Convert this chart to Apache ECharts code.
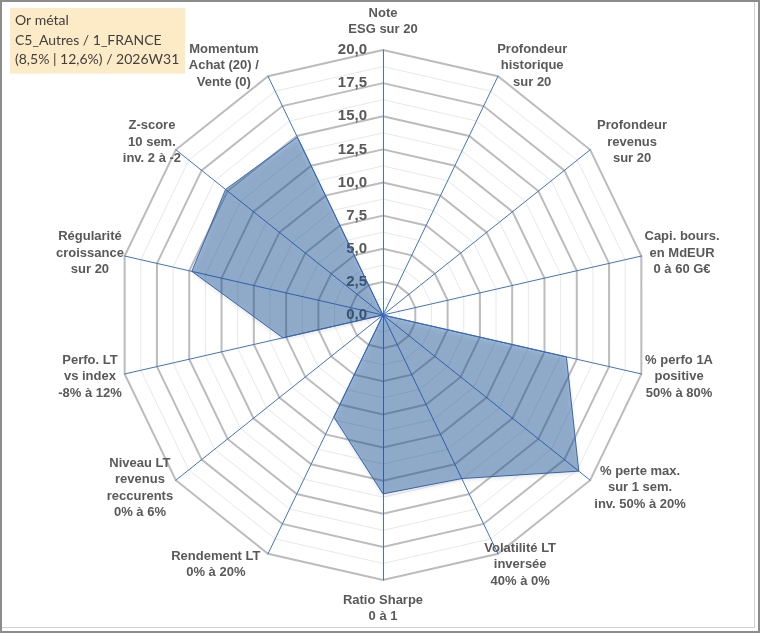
<!DOCTYPE html>
<html>
<head>
<meta charset="utf-8">
<script src="https://cdn.jsdelivr.net/npm/echarts@6/dist/echarts.min.js"></script>
<style>
html,body{margin:0;padding:0;background:#fff;}
#frame{position:absolute;left:0;top:0;width:760px;height:633px;box-sizing:border-box;border:2px solid #8c8c8c;}
#inner{position:absolute;left:2px;top:2px;width:753px;height:626px;box-sizing:border-box;border-right:1px solid #d0d0d0;border-bottom:1px solid #d0d0d0;}
#chart{position:absolute;left:0;top:0;width:760px;height:633px;}
</style>
</head>
<body>
<div id="chart"></div>
<div id="frame"></div>
<div id="inner"></div>
<script>
// Indicators in clockwise order starting at the top
const indicatorNames = [
  'Note\nESG sur 20',
  'Profondeur\nhistorique\nsur 20',
  'Profondeur\nrevenus\nsur 20',
  'Capi. bours.\nen MdEUR\n0 à 60 G€',
  '% perfo 1A\npositive\n50% à 80%',
  '% perte max.\nsur 1 sem.\ninv. 50% à 20%',
  'Volatilité LT\ninversée\n40% à 0%',
  'Ratio Sharpe\n0 à 1',
  'Rendement LT\n0% à 20%',
  'Niveau LT\nrevenus\nreccurents\n0% à 6%',
  'Perfo. LT\nvs index\n-8% à 12%',
  'Régularité\ncroissance\nsur 20',
  'Z-score\n10 sem.\ninv. 2 à -2',
  'Momentum\nAchat (20) /\nVente (0)'
];
const seriesValues = [0, 0, 0, 0, 14.2, 18.9, 13.7, 13.5, 8.55, 0, 7.75, 14.8, 15.2, 14.9];
const axisMin = 0;
const axisMax = 20;
const axisSplits = 8;
const titleLines = ['Or métal', 'C5_Autres / 1_FRANCE', '(8,5% | 12,6%) / 2026W31'];

// label box widths (layout only), clockwise order
const nameBoxWidths = [110, 58, 65, 58, 52, 81, 34, 110, 94, 53, 46, 46, 29, 78];

// ECharts places indicators counter-clockwise: reorder
const order = [0];
for (let i = indicatorNames.length - 1; i >= 1; i--) order.push(i);

const font = 'Liberation Sans, Arial, sans-serif';
const rich = {};
nameBoxWidths.forEach(function (w, i) {
  rich['r' + i] = {width: w, align: 'center', fontSize: 13, fontWeight: 'bold', color: '#595959', lineHeight: 16.5, fontFamily: font};
});

const mainIndicators = order.map(function (i, k) {
  const ind = {name: indicatorNames[i], min: axisMin, max: axisMax};
  if (k === 0) {
    ind.axisLabel = {
      show: true, color: '#595959', fontWeight: 'bold', fontSize: 15, fontFamily: font, margin: 16,
      formatter: function (v) { return Number(v).toFixed(1).replace('.', ','); }
    };
  }
  return ind;
});
const minorIndicators = order.map(function () { return {name: '', min: axisMin, max: axisMax}; });

const chart = echarts.init(document.getElementById('chart'), null, {renderer: 'canvas'});
chart.setOption({
  animation: false,
  backgroundColor: '#ffffff',
  title: {
    text: titleLines.join('\n'),
    left: 10, top: 8,
    padding: [3, 6, 4, 5],
    backgroundColor: '#fdeac6',
    textStyle: {fontFamily: 'Lato, sans-serif', fontSize: 14, fontWeight: 'normal', color: '#404040', lineHeight: 19.5}
  },
  radar: [
    {
      center: [383, 315], radius: 265, shape: 'polygon',
      indicator: minorIndicators,
      splitNumber: axisSplits * 2,
      axisName: {show: false},
      axisLine: {show: false},
      axisTick: {show: false},
      axisLabel: {show: false},
      splitArea: {show: false},
      splitLine: {lineStyle: {color: '#e8e8e8', width: 1}}
    },
    {
      center: [383, 315], radius: 265, shape: 'polygon',
      indicator: mainIndicators,
      splitNumber: axisSplits,
      axisNameGap: 12,
      axisName: {
        color: '#595959', fontWeight: 'bold', fontSize: 13, fontFamily: font, lineHeight: 16.5,
        formatter: function (name) {
          const idx = indicatorNames.indexOf(name);
          return name.split('\n').map(function (l) { return '{r' + idx + '|' + l + '}'; }).join('\n');
        },
        rich: rich
      },
      axisLine: {show: true, lineStyle: {color: '#4472c4', width: 1}},
      axisTick: {show: false},
      axisLabel: {show: false},
      splitArea: {show: false},
      splitLine: {lineStyle: {color: '#bcbcbc', width: 2}}
    }
  ],
  series: [{
    type: 'radar',
    radarIndex: 1,
    symbol: 'none',
    lineStyle: {color: '#4472c4', width: 1},
    areaStyle: {color: 'rgba(27,88,163,0.6)', shadowColor: 'rgba(0,0,0,0.25)', shadowBlur: 4, shadowOffsetY: 2},
    data: [{value: order.map(function (i) { return seriesValues[i]; })}]
  }]
});
</script>
</body>
</html>
